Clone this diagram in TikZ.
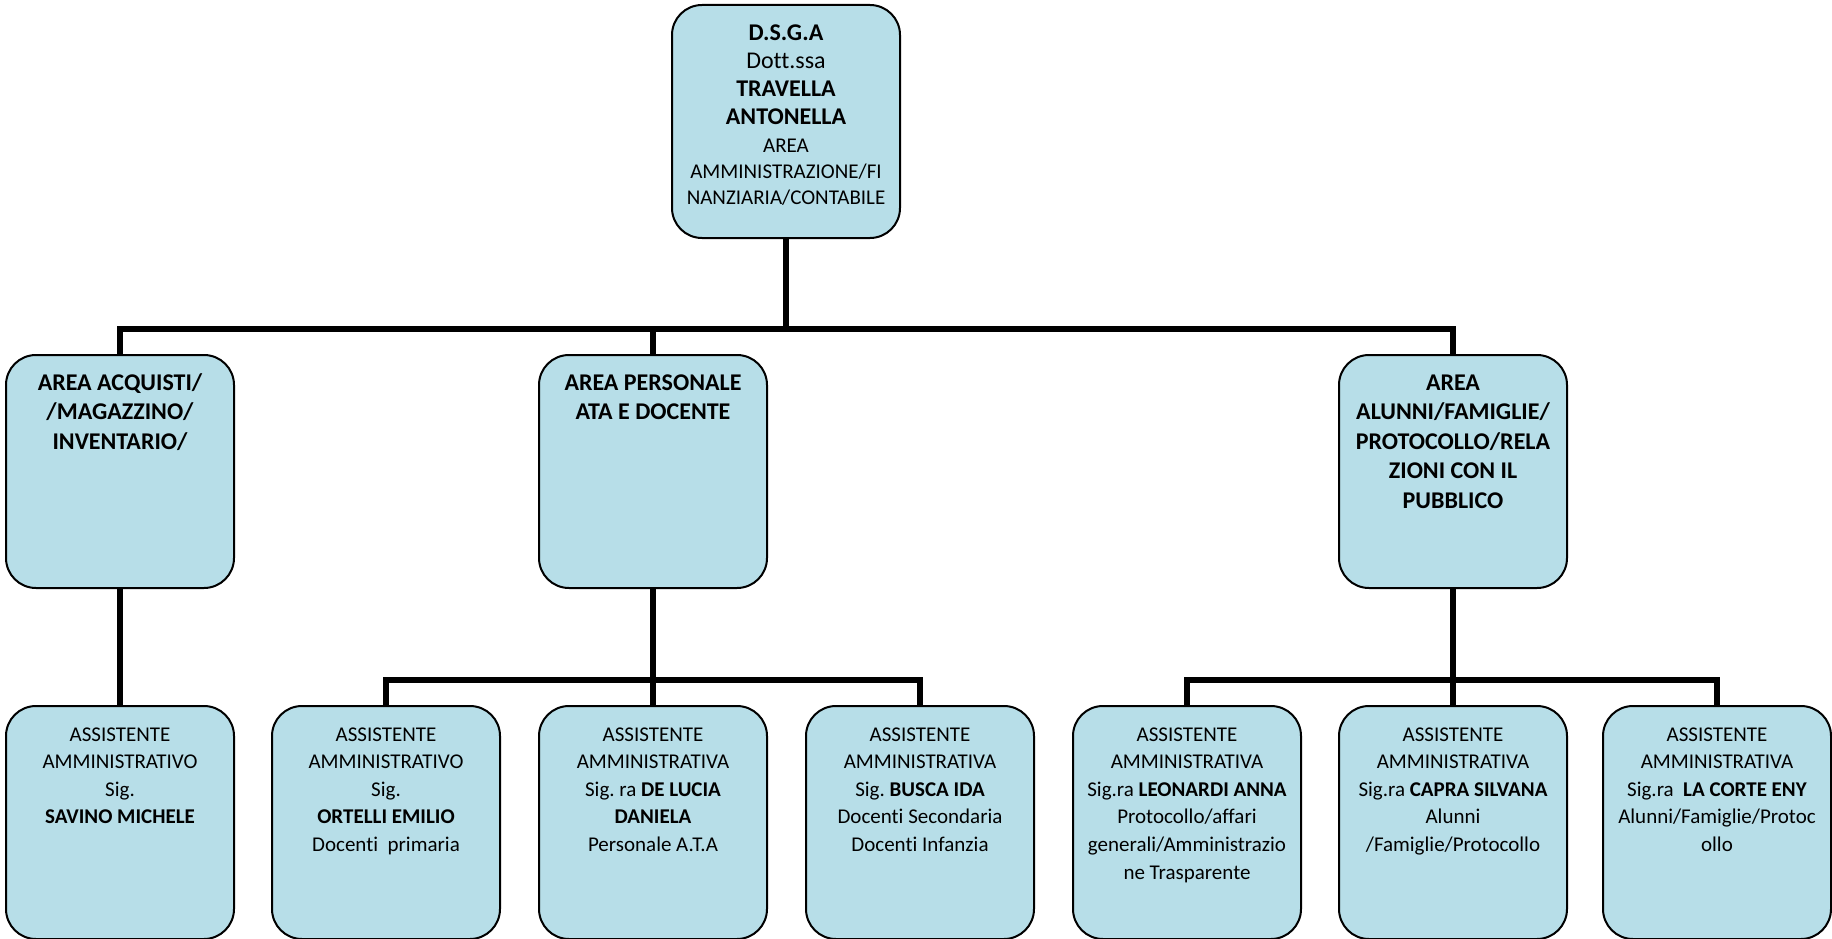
\documentclass[tikz,border=0pt]{standalone}
\usepackage{fontspec}
\setmainfont[Ligatures=NoCommon]{Carlito}
\definecolor{boxfill}{HTML}{B7DEE8}
\frenchspacing
\newcommand{\boxtext}[1]{\parbox[c][225pt][t]{224pt}{\centering\fontsize{21}{27.6}\selectfont\vspace*{11.7pt}\strut #1\par}}
\newcommand{\headtext}[1]{\parbox[c][225pt][t]{224pt}{\centering\fontsize{24}{29.5}\selectfont\bfseries\vspace*{10.4pt}\strut #1\par}}
\begin{document}
\begin{tikzpicture}[x=1pt,y=-1pt,
  orgbox/.style={draw=black, line width=2pt, fill=boxfill, rounded corners=30pt,
    minimum width=228pt, minimum height=233pt, inner sep=0pt, anchor=north},
  link/.style={line width=5.5pt, line join=miter}]
\useasboundingbox (0,0) rectangle (1832,939);

% junction points
\coordinate (j1) at (786,329);
\coordinate (j2) at (653,680);
\coordinate (j3) at (1453,680);

% nodes
\node[orgbox] (top) at (786,4) {\parbox[c][225pt][t]{224pt}{\centering\fontsize{24}{28}\selectfont\vspace*{11.7pt}\strut\textbf{D.S.G.A}\\Dott.ssa\\\textbf{TRAVELLA}\\\textbf{ANTONELLA}\par\vspace{2.6pt}\fontsize{21}{26}\selectfont AREA\\AMMINISTRAZIONE/FI\\NANZIARIA/CONTABILE\par}};

\node[orgbox] (midA) at (120,354) {\headtext{AREA ACQUISTI/\\/MAGAZZINO/\\INVENTARIO/}};
\node[orgbox] (midB) at (653,354) {\headtext{AREA PERSONALE\\ATA E DOCENTE}};
\node[orgbox] (midC) at (1453,354) {\headtext{AREA\\ALUNNI/FAMIGLIE/\\PROTOCOLLO/RELA\\ZIONI CON IL\\PUBBLICO}};

\node[orgbox] (b1) at (120,705) {\boxtext{ASSISTENTE\\AMMINISTRATIVO\\Sig.\\\textbf{SAVINO MICHELE}}};
\node[orgbox] (b2) at (386,705) {\boxtext{ASSISTENTE\\AMMINISTRATIVO\\Sig.\\\textbf{ORTELLI EMILIO}\\Docenti\ \ primaria}};
\node[orgbox] (b3) at (653,705) {\boxtext{ASSISTENTE\\AMMINISTRATIVA\\Sig. ra \textbf{DE LUCIA}\\\textbf{DANIELA}\\Personale A.T.A}};
\node[orgbox] (b4) at (920,705) {\boxtext{ASSISTENTE\\AMMINISTRATIVA\\Sig. \textbf{BUSCA IDA}\\Docenti Secondaria\\Docenti Infanzia}};
\node[orgbox] (b5) at (1187,705) {\boxtext{ASSISTENTE\\AMMINISTRATIVA\\Sig.ra \textbf{LEONARDI ANNA}\\Protocollo/affari\\generali/Amministrazio\\ne Trasparente}};
\node[orgbox] (b6) at (1453,705) {\boxtext{ASSISTENTE\\AMMINISTRATIVA\\Sig.ra \textbf{CAPRA SILVANA}\\Alunni\\/Famiglie/Protocollo}};
\node[orgbox] (b7) at (1717,705) {\boxtext{ASSISTENTE\\AMMINISTRATIVA\\Sig.ra\ \ \textbf{LA CORTE ENY}\\Alunni/Famiglie/Protoc\\ollo}};

% connectors
\draw[link] (top.south) -- (j1);
\draw[link] (midA.north) |- (j1) -| (midC.north);
\draw[link] (midB.north) -- (midB.north |- j1);

\draw[link] (midA.south) -- (b1.north);
\draw[link] (midB.south) -- (b3.north);
\draw[link] (b2.north) |- (j2) -| (b4.north);
\draw[link] (midC.south) -- (b6.north);
\draw[link] (b5.north) |- (j3) -| (b7.north);
\end{tikzpicture}
\end{document}
